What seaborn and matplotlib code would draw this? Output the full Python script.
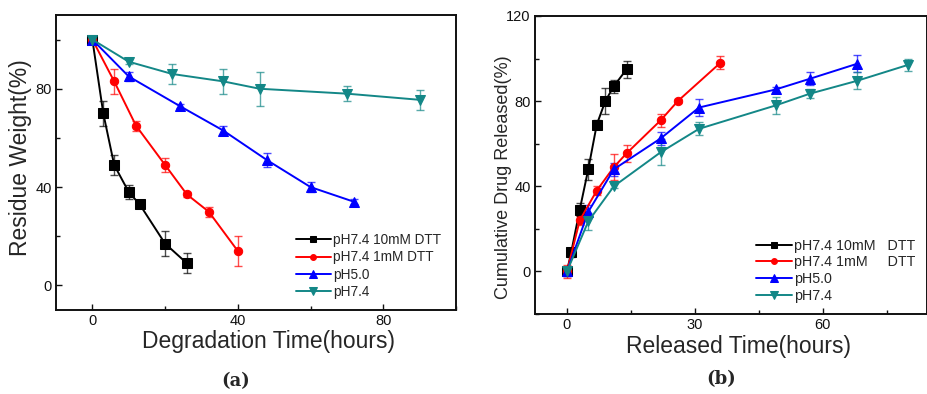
import numpy as np
import pandas as pd
import matplotlib
matplotlib.use("Agg")
import matplotlib.pyplot as plt
from matplotlib.ticker import MultipleLocator
import seaborn as sns

# ---------------- data: panel (a) degradation ----------------
a_labels = ["pH7.4 10mM DTT", "pH7.4 1mM DTT", "pH5.0", "pH7.4"]
a_x_10mM = [0, 3, 6, 10, 13, 20, 26]
a_y_10mM = [100, 70, 49, 38, 33, 17, 9]
a_e_10mM = [1, 5, 4, 3, 1, 5, 4]
a_x_1mM = [0, 6, 12, 20, 26, 32, 40]
a_y_1mM = [100, 83, 65, 49, 37, 30, 14]
a_e_1mM = [1, 5, 2, 3, 1, 2, 6]
a_x_ph5 = [0, 10, 24, 36, 48, 60, 72]
a_y_ph5 = [100, 85, 73, 63, 51, 40, 34]
a_e_ph5 = [1, 2, 1, 2, 3, 2, 1]
a_x_ph74 = [0, 10, 22, 36, 46, 70, 90]
a_y_ph74 = [100, 91, 86, 83, 80, 78, 75.5]
a_e_ph74 = [1, 1, 4, 5, 7, 3, 4]

# ---------------- data: panel (b) release ----------------
b_labels = ["pH7.4 10mM   DTT", "pH7.4 1mM     DTT", "pH5.0", "pH7.4"]
b_x_10mM = [0, 1, 3, 5, 7, 9, 11, 14]
b_y_10mM = [0, 9, 29, 48, 69, 80, 87, 95]
b_e_10mM = [2, 2, 3, 5, 2, 6, 3, 4]
b_x_1mM = [0, 3, 7, 11, 14, 22, 26, 36]
b_y_1mM = [0, 24, 38, 49, 55.5, 71, 80, 98]
b_e_1mM = [3, 2, 2, 6, 4, 3, 1, 3]
b_x_ph5 = [0, 5, 11, 22, 31, 49, 57, 68]
b_y_ph5 = [0, 28, 48, 62.5, 77, 85.5, 90.5, 97.5]
b_e_ph5 = [2, 3, 3, 3, 4, 1, 3, 4]
b_x_ph74 = [0, 5, 11, 22, 31, 49, 57, 68, 80]
b_y_ph74 = [0, 23.5, 40, 56, 67, 78, 83.5, 89.5, 97]
b_e_ph74 = [1, 4, 1, 6, 3, 4, 2, 4, 3]

colors = ["#000000", "#ff0000", "#0000ff", "#138787"]
markers = ["s", "o", "^", "v"]
msizes = [6.5, 6, 7.5, 7.5]

sns.set_theme(style="ticks", rc={
    "xtick.direction": "in", "ytick.direction": "in",
    "xtick.major.size": 4, "ytick.major.size": 4,
    "xtick.minor.size": 3, "ytick.minor.size": 3,
    "xtick.major.width": 1.0, "ytick.major.width": 1.0,
    "xtick.minor.width": 1.0, "ytick.minor.width": 1.0,
    "axes.linewidth": 1.4,
})
plt.rcParams["font.family"] = ["Liberation Sans", "DejaVu Sans"]

fig = plt.figure(figsize=(9.28, 3.94), dpi=100)
axA = fig.add_axes([56/928, 84/394, 400/928, 295/394])
axB = fig.add_axes([535/928, 80/394, 392/928, 298/394])


def draw(ax, xs, ys, es, labels):
    for x, y, e, lab, c, m, ms in zip(xs, ys, es, labels, colors, markers, msizes):
        df = pd.DataFrame({"x": x, "y": y})
        ax.errorbar(x, y, yerr=e, fmt="none", ecolor=c, alpha=0.7,
                    elinewidth=1.0, capsize=3, capthick=1.0, zorder=2)
        sns.lineplot(data=df, x="x", y="y", ax=ax, color=c, marker=m,
                     markersize=ms, markeredgecolor=c, linewidth=1.4,
                     label=lab, sort=False, zorder=3)


draw(axA, [a_x_10mM, a_x_1mM, a_x_ph5, a_x_ph74],
     [a_y_10mM, a_y_1mM, a_y_ph5, a_y_ph74],
     [a_e_10mM, a_e_1mM, a_e_ph5, a_e_ph74], a_labels)
draw(axB, [b_x_10mM, b_x_1mM, b_x_ph5, b_x_ph74],
     [b_y_10mM, b_y_1mM, b_y_ph5, b_y_ph74],
     [b_e_10mM, b_e_1mM, b_e_ph5, b_e_ph74], b_labels)

# panel a axes
axA.set_xlim(-10, 100)
axA.set_ylim(-10, 110)
axA.xaxis.set_major_locator(MultipleLocator(40))
axA.xaxis.set_minor_locator(MultipleLocator(20))
axA.yaxis.set_major_locator(MultipleLocator(40))
axA.yaxis.set_minor_locator(MultipleLocator(20))
axA.set_xlabel("Degradation Time(hours)", fontsize=16.5)
axA.set_ylabel("Residue Weight(%)", fontsize=16.5)
axA.xaxis.set_label_coords(0.532, -0.068)
axA.yaxis.set_label_coords(-0.06, 0.517)

# panel b axes
axB.set_xlim(-7.5, 84.5)
axB.set_ylim(-20, 120)
axB.xaxis.set_major_locator(MultipleLocator(30))
axB.xaxis.set_minor_locator(MultipleLocator(15))
axB.yaxis.set_major_locator(MultipleLocator(40))
axB.yaxis.set_minor_locator(MultipleLocator(20))
axB.set_xlabel("Released Time(hours)", fontsize=16.5)
axB.set_ylabel("Cumulative Drug Released(%)", fontsize=13)
axB.xaxis.set_label_coords(0.518, -0.07)
axB.yaxis.set_label_coords(-0.058, 0.46)

for ax in (axA, axB):
    for s in ax.spines.values():
        s.set_visible(True)
        s.set_color("#111111")
    ax.tick_params(which="both", top=False, right=False, colors="#111111",
                   labelsize=10.5)
    ax.tick_params(axis="x", which="major", pad=3)
    ax.tick_params(axis="y", which="major", pad=3)

legA = axA.legend(loc="lower right", bbox_to_anchor=(0.99, 0.0), frameon=False,
                  fontsize=9.8, handlelength=2.6, handletextpad=0.15,
                  labelspacing=0.25, markerscale=0.7, borderaxespad=0.4)
legB = axB.legend(loc="lower right", bbox_to_anchor=(1.0, 0.0), frameon=False,
                  fontsize=10.3, handlelength=2.5, handletextpad=0.15,
                  labelspacing=0.18, markerscale=0.7, borderaxespad=0.4)

fig.text(236/928, 1 - 381/394, "(a)", family="DejaVu Serif", weight="bold",
         fontsize=13, ha="center", va="center")
fig.text(721/928, 1 - 379/394, "(b)", family="DejaVu Serif", weight="bold",
         fontsize=13, ha="center", va="center")

fig.savefig("out.png", dpi=100)
